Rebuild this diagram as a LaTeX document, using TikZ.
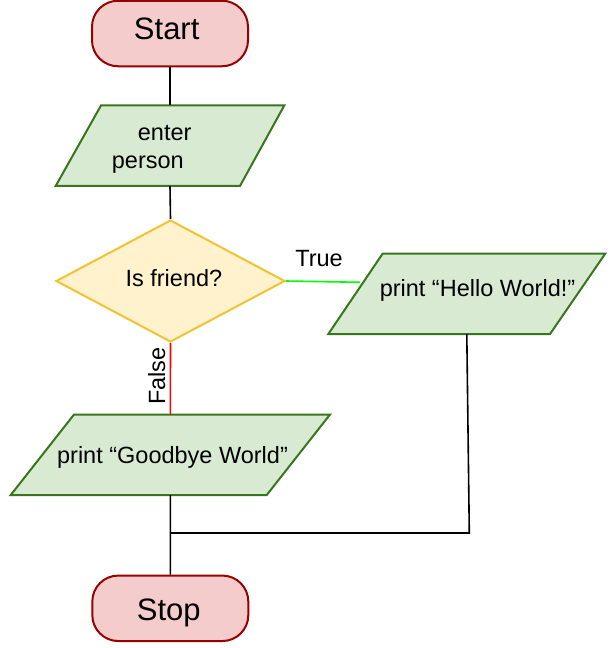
\documentclass[tikz,border=0pt]{standalone}
\usepackage{fontspec}
\setmainfont{Liberation Sans}
\usetikzlibrary{shapes.geometric,calc}
\definecolor{termfill}{HTML}{F4CCCC}
\definecolor{termdraw}{HTML}{990000}
\definecolor{iofill}{HTML}{D9EAD3}
\definecolor{iodraw}{HTML}{38761D}
\definecolor{decfill}{HTML}{FFF2CC}
\definecolor{decdraw}{HTML}{F1C232}
\definecolor{truegreen}{HTML}{00FF00}
\definecolor{falsered}{HTML}{FF0000}
\begin{document}
\begin{tikzpicture}[x=1pt,y=-1pt,
  term/.style={draw=termdraw, fill=termfill, line width=2pt, rounded corners=26pt,
    minimum width=156pt, minimum height=65.5pt, inner sep=0pt},
  iobox/.style={minimum width=#1, minimum height=80.5pt, inner sep=0pt, outer sep=0pt},
  iopara/.style={draw=iodraw, fill=iofill, line width=2pt, line join=miter},
  dec/.style={diamond, draw=decdraw, fill=decfill, line width=2pt,
    minimum width=229pt, minimum height=122pt, inner sep=0pt, aspect=1.88},
  conn/.style={line width=1.6pt, black},
  lbl/.style={font=\fontsize{23.5}{28.3}\selectfont, inner sep=0pt},
  big/.style={font=\fontsize{31}{36}\selectfont, inner sep=0pt}
]
\useasboundingbox (0,0) rectangle (612,648);

% terminals
\node[term] (start) at (170,33.5) {};
\node[term] (stop) at (170.3,608.3) {};

% input/output boxes
\node[iobox=228.6pt] (enter) at (170,145.7) {};
\draw[iopara] ($(enter.north west)+(45.3,0)$) -- (enter.north east)
  -- ($(enter.south east)+(-44.3,0)$) -- (enter.south west) -- cycle;

\node[iobox=277pt] (hello) at (466.8,293.8) {};
\draw[iopara] ($(hello.north west)+(54.4,0)$) -- (hello.north east)
  -- ($(hello.south east)+(-55.3,0)$) -- (hello.south west) -- cycle;

\node[iobox=319.3pt] (bye) at (170.35,454.8) {};
\draw[iopara] ($(bye.north west)+(63.3,0)$) -- (bye.north east)
  -- ($(bye.south east)+(-63.3,0)$) -- (bye.south west) -- cycle;

% decision
\node[dec] (friend) at (170.5,281) {};

% texts
\node[big, anchor=base] (ts) at (166.7,39.3) {Start};
\node[big, anchor=base] (tp) at (168.8,620) {Stop};
\node[lbl, anchor=base west] (t1) at (137.7,140) {enter};
\node[lbl, anchor=base west] (t2) at (111.7,168.3) {person};
\node[lbl, anchor=base] (t3) at (173.9,286.7) {Is friend?};
\node[lbl, anchor=base] (t4) at (477.5,296.7) {print “Hello World!”};
\node[lbl, anchor=base] (t5) at (172.5,463.3) {print “Goodbye World”};
\node[lbl, anchor=base] (tt) at (319,266) {True};
\node[lbl, anchor=base, rotate=90] (tf) at (165,376) {False};

% connectors
\coordinate (hin) at (360,282.3);
\coordinate (c1) at (469.3,533);
\coordinate (c2) at (bye.south |- c1);
\draw[conn] (start.south) -- (enter.north);
\draw[conn] (enter.south) -- (friend.north);
\draw[conn, truegreen] (friend.east) -- (hin);
\draw[conn, falsered] (friend.south) -- (bye.north);
\draw[conn] (hello.south) -- (c1) -- (c2);
\draw[conn] (bye.south) -- (stop.north);
\end{tikzpicture}
\end{document}
